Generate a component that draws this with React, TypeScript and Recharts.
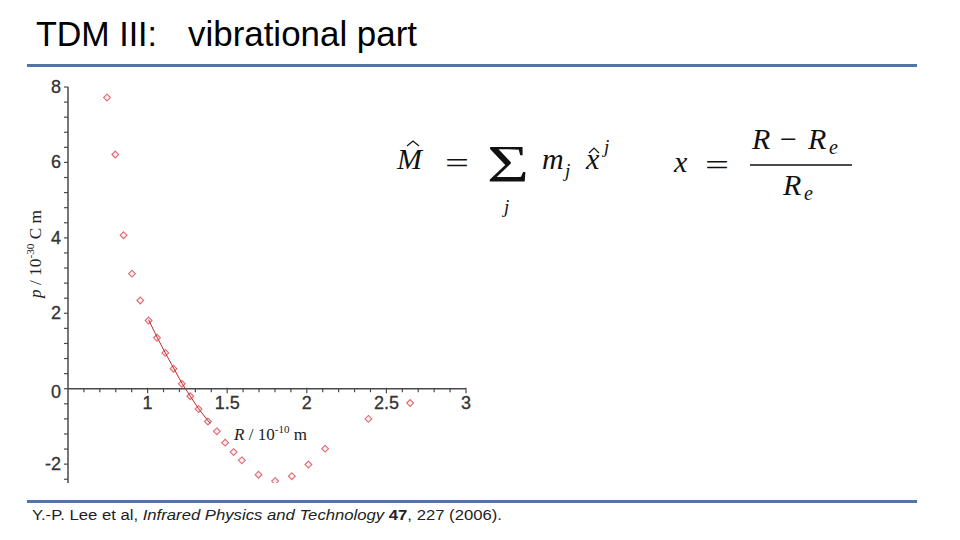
import React from 'react';
import { ScatterChart, Scatter, XAxis, YAxis, ReferenceLine, ReferenceDot } from 'recharts';

// measured dipole moment p (10^-30 C m) vs bond length R (10^-10 m)
const rValues = [0.745, 0.797, 0.849, 0.902, 0.954, 1.006, 1.059, 1.111, 1.163, 1.215, 1.268, 1.32, 1.379, 1.435, 1.487, 1.54, 1.592, 1.697, 1.801, 1.906, 2.01, 2.115, 2.387, 2.649];
const pValues = [7.72, 6.21, 4.07, 3.05, 2.34, 1.81, 1.35, 0.95, 0.53, 0.13, -0.2, -0.54, -0.87, -1.13, -1.43, -1.68, -1.9, -2.28, -2.45, -2.32, -2.01, -1.59, -0.8, -0.38];

// fitted polynomial near equilibrium
const rFit = [1.006, 1.059, 1.111, 1.163, 1.215, 1.268, 1.32, 1.379, 1.395];
const pFit = [1.83, 1.37, 0.95, 0.55, 0.15, -0.2, -0.53, -0.85, -0.92];

const xMajorTicks = [1, 1.5, 2, 2.5, 3];
const xMajorLabels = ['1', '1.5', '2', '2.5', '3'];
const xMinorTicks = [0.6, 0.7, 0.8, 0.9, 1.1, 1.2, 1.3, 1.4, 1.6, 1.7, 1.8, 1.9, 2.1, 2.2, 2.3, 2.4, 2.6, 2.7, 2.8, 2.9];
const yTicks = [-2.4, -2, -1.6, -1.2, -0.8, -0.4, 0, 0.4, 0.8, 1.2, 1.6, 2, 2.4, 2.8, 3.2, 3.6, 4, 4.4, 4.8, 5.2, 5.6, 6, 6.4, 6.8, 7.2, 7.6, 8];
const yLabelTicks = [-2, 0, 2, 4, 6, 8];

const points = rValues.map((r, i) => ({ r, p: pValues[i] }));
const fit = rFit.map((r, i) => ({ r, p: pFit[i] }));

const AXIS = '#4a4a4a';
const TICK_FONT = '"Liberation Sans", Arial, sans-serif';
const SERIF = '"Liberation Serif", "Times New Roman", serif';

const Diamond = (props: any) => {
  const { cx, cy } = props;
  const s = 3.4;
  return (
    <path
      d={`M${cx},${cy - s} L${cx + s},${cy} L${cx},${cy + s} L${cx - s},${cy} Z`}
      fill="#fdeeee"
      stroke="#dd6a72"
      strokeWidth={1.1}
    />
  );
};

const YTick = (props: any) => {
  const { x, y, payload } = props;
  if (!yLabelTicks.includes(payload.value)) return <g />;
  const dy = payload.value === 0 ? 9 : 6;
  return (
    <text x={x - 1} y={y + dy} textAnchor="end" fontSize={18} fontFamily={TICK_FONT} fill="#333" stroke="#333" strokeWidth={0.3}>
      {String(payload.value)}
    </text>
  );
};

const Hat = ({ x, y, w }: { x: number; y: number; w: number }) => (
  <path d={`M${x},${y + 5} L${x + w / 2},${y} L${x + w},${y + 5}`} fill="none" stroke="#111" strokeWidth={1.2} />
);

export default function App() {
  return (
    <div style={{ position: 'absolute', left: 0, top: 0, width: 960, height: 540, background: '#fff', overflow: 'hidden' }}>
      <div style={{ position: 'absolute', left: 0, top: 0 }}>
        <ScatterChart width={480} height={500} margin={{ top: 87, right: 14, bottom: 17, left: 8 }}>
          <XAxis type="number" dataKey="r" domain={[0.5, 3]} allowDataOverflow hide />
          <YAxis
            type="number"
            dataKey="p"
            domain={[-2.5, 8]}
            allowDataOverflow
            ticks={yTicks}
            interval={0}
            width={60}
            tickSize={4}
            axisLine={{ stroke: AXIS, strokeWidth: 1.5 }}
            tickLine={{ stroke: AXIS, strokeWidth: 1.2 }}
            tick={<YTick />}
          />
          <ReferenceLine y={0} stroke={AXIS} strokeWidth={1.5} ifOverflow="visible" />
          {xMinorTicks.map((v) => (
            <ReferenceDot
              key={'mn' + v}
              x={v}
              y={0}
              r={2}
              ifOverflow="visible"
              shape={(p: any) => <line x1={p.cx} x2={p.cx} y1={p.cy} y2={p.cy + 3.5} stroke={AXIS} strokeWidth={1.2} />}
            />
          ))}
          {xMajorTicks.map((v, i) => (
            <ReferenceDot
              key={'mj' + v}
              x={v}
              y={0}
              r={2}
              ifOverflow="visible"
              shape={(p: any) => (
                <g>
                  <line x1={p.cx} x2={p.cx} y1={p.cy - 1} y2={p.cy + 4.5} stroke={AXIS} strokeWidth={1.2} />
                  <text x={p.cx} y={p.cy + 20} textAnchor="middle" fontSize={18} fontFamily={TICK_FONT} fill="#333" stroke="#333" strokeWidth={0.3}>
                    {xMajorLabels[i]}
                  </text>
                </g>
              )}
            />
          ))}
          <Scatter data={points} shape={Diamond} isAnimationActive={false} />
          <Scatter
            data={fit}
            line={{ stroke: '#c42a2a', strokeWidth: 1 }}
            lineType="joint"
            shape={() => <g />}
            isAnimationActive={false}
          />
        </ScatterChart>
      </div>

      <svg width={960} height={540} style={{ position: 'absolute', left: 0, top: 0, pointerEvents: 'none' }}>
        {/* title */}
        <text x={36} y={46} fontSize={35} fontFamily={TICK_FONT} fill="#000" textLength={121} lengthAdjust="spacingAndGlyphs">
          TDM III:
        </text>
        <text x={188} y={46} fontSize={35} fontFamily={TICK_FONT} fill="#000" textLength={229} lengthAdjust="spacingAndGlyphs">
          vibrational part
        </text>
        <rect x={27} y={64} width={890} height={3} fill="#5073a8" />
        <rect x={27} y={500} width={890} height={3} fill="#5073a8" />

        {/* axis titles */}
        <text transform="translate(41,298) rotate(-90)" fontSize={17} fontFamily={SERIF} fill="#222" textLength={88} lengthAdjust="spacingAndGlyphs">
          <tspan fontStyle="italic">p</tspan> / 10<tspan dy={-7} fontSize={11}>-30</tspan>
          <tspan dy={7}> C m</tspan>
        </text>
        <text x={234} y={440} fontSize={17} fontFamily={SERIF} fill="#222" textLength={73} lengthAdjust="spacingAndGlyphs">
          <tspan fontStyle="italic">R</tspan> / 10<tspan dy={-7} fontSize={11}>-10</tspan>
          <tspan dy={7}> m</tspan>
        </text>

        {/* formula */}
        <g fontFamily={SERIF} fill="#111">
          <text x={397} y={169} fontSize={30} fontStyle="italic">M</text>
          <Hat x={407} y={141} w={12} />
          <text x={445} y={173} fontSize={30} textLength={24} lengthAdjust="spacingAndGlyphs">=</text>
          <text x={487} y={182} fontSize={52} textLength={42} lengthAdjust="spacingAndGlyphs">Σ</text>
          <text x={504} y={213} fontSize={19} fontStyle="italic">j</text>
          <text x={542} y={169} fontSize={30} fontStyle="italic">m</text>
          <text x={565} y={177} fontSize={19} fontStyle="italic">j</text>
          <text x={586} y={169} fontSize={30} fontStyle="italic">x</text>
          <Hat x={589} y={148} w={10} />
          <text x={604} y={153} fontSize={19} fontStyle="italic">j</text>

          <text x={674} y={172} fontSize={30} fontStyle="italic">x</text>
          <text x={705} y={175} fontSize={30} textLength={24} lengthAdjust="spacingAndGlyphs">=</text>
          <line x1={750} x2={852} y1={165} y2={165} stroke="#111" strokeWidth={1.5} />
          <text x={752} y={149} fontSize={30} fontStyle="italic">R</text>
          <text x={780} y={149} fontSize={30}>−</text>
          <text x={808} y={149} fontSize={30} fontStyle="italic">R</text>
          <text x={829} y={154} fontSize={20} fontStyle="italic">e</text>
          <text x={783} y={195} fontSize={30} fontStyle="italic">R</text>
          <text x={804} y={200} fontSize={20} fontStyle="italic">e</text>
        </g>

        {/* citation */}
        <text x={32} y={520} fontSize={14} fontFamily={TICK_FONT} fill="#222" textLength={470} lengthAdjust="spacingAndGlyphs">
          Y.-P. Lee et al, <tspan fontStyle="italic">Infrared Physics and Technology</tspan>{' '}
          <tspan fontWeight="bold">47</tspan>, 227 (2006).
        </text>
      </svg>
    </div>
  );
}
